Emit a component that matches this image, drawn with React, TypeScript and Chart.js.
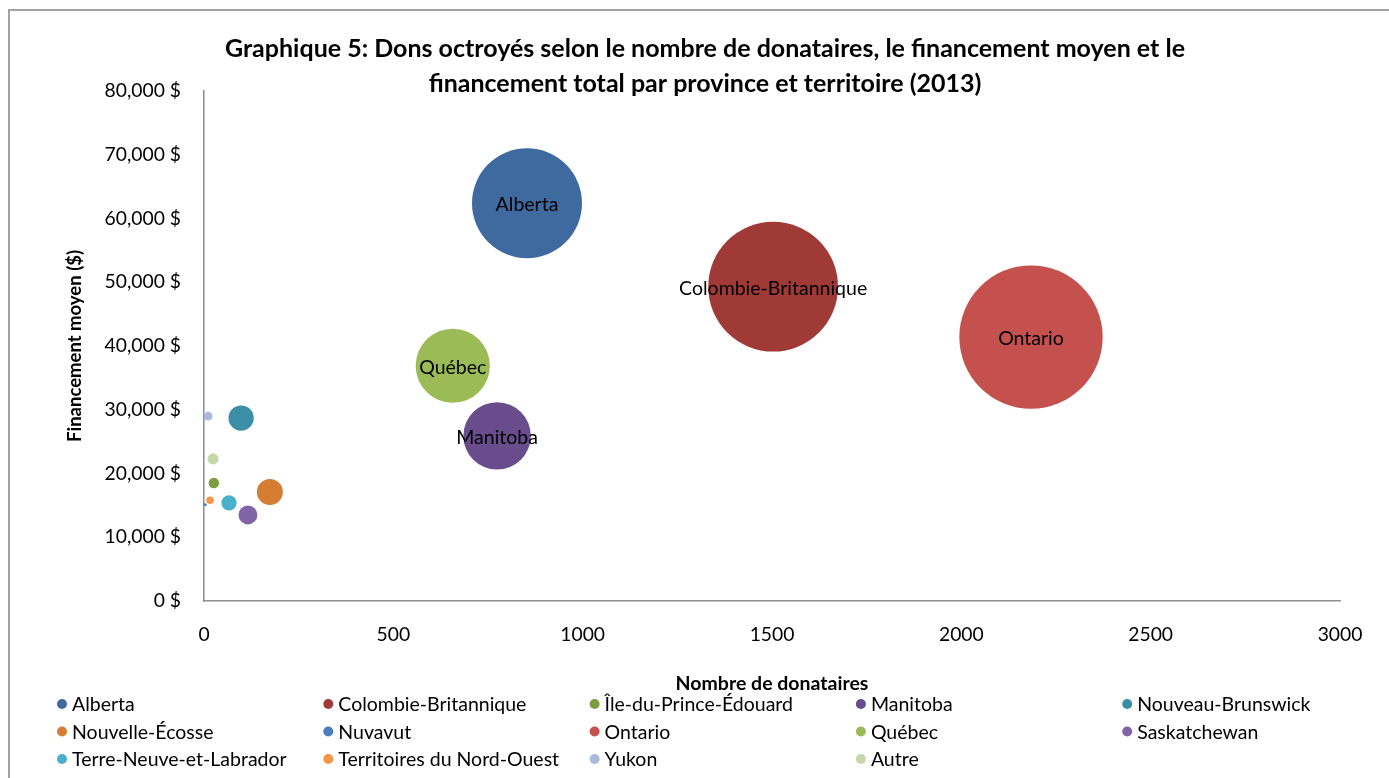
import React, { useEffect, useRef } from "react";
import { Chart, registerables } from "chart.js";

Chart.register(...registerables);

// ---------- data ----------
const provinces = [
  "Alberta",
  "Colombie-Britannique",
  "Île-du-Prince-Édouard",
  "Manitoba",
  "Nouveau-Brunswick",
  "Nouvelle-Écosse",
  "Nuvavut",
  "Ontario",
  "Québec",
  "Saskatchewan",
  "Terre-Neuve-et-Labrador",
  "Territoires du Nord-Ouest",
  "Yukon",
  "Autre",
];

// Nombre de donataires (x)
const donataires = [853, 1503, 26, 774, 98, 174, 3, 2184, 657, 116, 66, 16, 11, 24];

// Financement moyen en $ (y)
const financementMoyen = [
  62400, 49300, 18500, 25900, 28700, 17100, 15100, 41400, 36900, 13500, 15400, 15800, 29000, 22300,
];

// Financement total en $ (bubble size, area-proportional)
const financementTotal = [
  53200000, 74100000, 480000, 20000000, 2810000, 2980000, 45000, 90400000, 24200000, 1570000,
  1020000, 250000, 320000, 540000,
];

const colors = [
  "#3F6AA0",
  "#A03A37",
  "#7B9C3F",
  "#684C8C",
  "#3A8EA5",
  "#D57C35",
  "#4A7EBB",
  "#C4514E",
  "#9ABB55",
  "#8164A5",
  "#4AAFCB",
  "#F7964A",
  "#AAB9DC",
  "#C5D8AA",
];

const labeledProvinces = ["Alberta", "Colombie-Britannique", "Ontario", "Québec", "Manitoba"];

const titleLines = [
  "Graphique 5: Dons octroyés selon le nombre de donataires, le financement moyen et le",
  "financement total par province et territoire (2013)",
];
const xAxisTitle = "Nombre de donataires";
const yAxisTitle = "Financement moyen ($)";

const xMin = 0;
const xMax = 3000;
const xStep = 500;
const yMin = 0;
const yMax = 80000;
const yStep = 10000;

// ---------- styles ----------
const FONT = "Lato, 'Open Sans', sans-serif";
const BUBBLE_SCALE = 0.00754; // px radius per sqrt($)
const LEGEND_COLS = 5;
const LEGEND_X0 = 62;
const LEGEND_DX = 266.3;
const LEGEND_Y0 = 704;
const LEGEND_DY = 27.5;

const overlayPlugin = {
  id: "overlay",
  afterDatasetsDraw(chart: any) {
    const ctx = chart.ctx;
    ctx.save();
    ctx.fillStyle = "#000";
    ctx.font = `19.5px ${FONT}`;
    ctx.textAlign = "center";
    ctx.textBaseline = "middle";
    chart.data.datasets.forEach((ds: any, i: number) => {
      if (!labeledProvinces.includes(ds.label)) return;
      const meta = chart.getDatasetMeta(i);
      const el = meta.data[0];
      if (!el) return;
      ctx.fillText(ds.label, el.x, el.y + 2);
    });
    ctx.restore();
  },
  afterDraw(chart: any) {
    const ctx = chart.ctx;
    ctx.save();
    // title
    ctx.fillStyle = "#000";
    ctx.font = `bold 25px ${FONT}`;
    ctx.textAlign = "center";
    ctx.textBaseline = "middle";
    titleLines.forEach((line, i) => ctx.fillText(line, 705, 49 + i * 35));
    // legend
    ctx.font = `19.5px ${FONT}`;
    ctx.textAlign = "left";
    chart.data.datasets.forEach((ds: any, i: number) => {
      const col = i % LEGEND_COLS;
      const row = Math.floor(i / LEGEND_COLS);
      const x = LEGEND_X0 + col * LEGEND_DX;
      const y = LEGEND_Y0 + row * LEGEND_DY;
      ctx.fillStyle = ds.backgroundColor;
      ctx.beginPath();
      ctx.arc(x, y, 5, 0, Math.PI * 2);
      ctx.fill();
      ctx.fillStyle = "#000";
      ctx.fillText(ds.label, x + 10, y + 1);
    });
    ctx.restore();
  },
};

export default function App() {
  const canvasRef = useRef<HTMLCanvasElement | null>(null);

  useEffect(() => {
    if (!canvasRef.current) return;
    const datasets = provinces.map((p, i) => ({
      label: p,
      data: [
        {
          x: donataires[i],
          y: financementMoyen[i],
          r: Math.sqrt(financementTotal[i]) * BUBBLE_SCALE,
        },
      ],
      backgroundColor: colors[i],
      borderWidth: 0,
    }));

    const chart = new Chart(canvasRef.current, {
      type: "bubble",
      data: { datasets },
      plugins: [overlayPlugin],
      options: {
        animation: false,
        responsive: false,
        devicePixelRatio: 1,
        layout: { autoPadding: false, padding: { left: 0, top: 91, right: 49, bottom: 77 } },
        plugins: {
          legend: { display: false },
          title: { display: false },
          tooltip: { enabled: false },
        },
        scales: {
          x: {
            type: "linear",
            min: xMin,
            max: xMax,
            grid: { display: false, drawTicks: false },
            border: { display: true, color: "#8e8e8e", width: 1.5 },
            ticks: {
              stepSize: xStep,
              padding: 22,
              color: "#000",
              font: { family: FONT, size: 19.3 },
              callback: (v: any) => String(v),
            },
            title: {
              display: true,
              text: xAxisTitle,
              color: "#000",
              font: { family: FONT, size: 19.5, weight: "bold" },
              padding: { top: 0, bottom: 6 },
            },
            afterFit: (s: any) => {
              s.height = 100;
              s.paddingLeft = 0;
              s.paddingRight = 0;
            },
          },
          y: {
            type: "linear",
            min: yMin,
            max: yMax,
            grid: { display: false, drawTicks: false },
            border: { display: true, color: "#8e8e8e", width: 1.5 },
            ticks: {
              stepSize: yStep,
              padding: 23,
              color: "#000",
              font: { family: FONT, size: 19.3 },
              callback: (v: any) => Number(v).toLocaleString("en-US") + " $",
            },
            title: {
              display: true,
              text: yAxisTitle,
              color: "#000",
              font: { family: FONT, size: 18.5, weight: "bold" },
              padding: { top: 64, bottom: 0 },
            },
            afterFit: (s: any) => {
              s.width = 204;
              s.paddingTop = 0;
              s.paddingBottom = 0;
            },
          },
        },
      },
    } as any);
    return () => chart.destroy();
  }, []);

  return (
    <div
      style={{
        position: "absolute",
        left: 0,
        top: 0,
        width: 1389,
        height: 778,
        background: "#fff",
        overflow: "hidden",
      }}
    >
      <div
        style={{
          position: "absolute",
          left: 8,
          top: 9,
          right: 0,
          bottom: 0,
          borderTop: "2px solid #a3a3a3",
          borderLeft: "2px solid #a3a3a3",
        }}
      />
      <canvas
        ref={canvasRef}
        width={1389}
        height={778}
        style={{ position: "absolute", left: 0, top: 0, display: "block" }}
      />
    </div>
  );
}
